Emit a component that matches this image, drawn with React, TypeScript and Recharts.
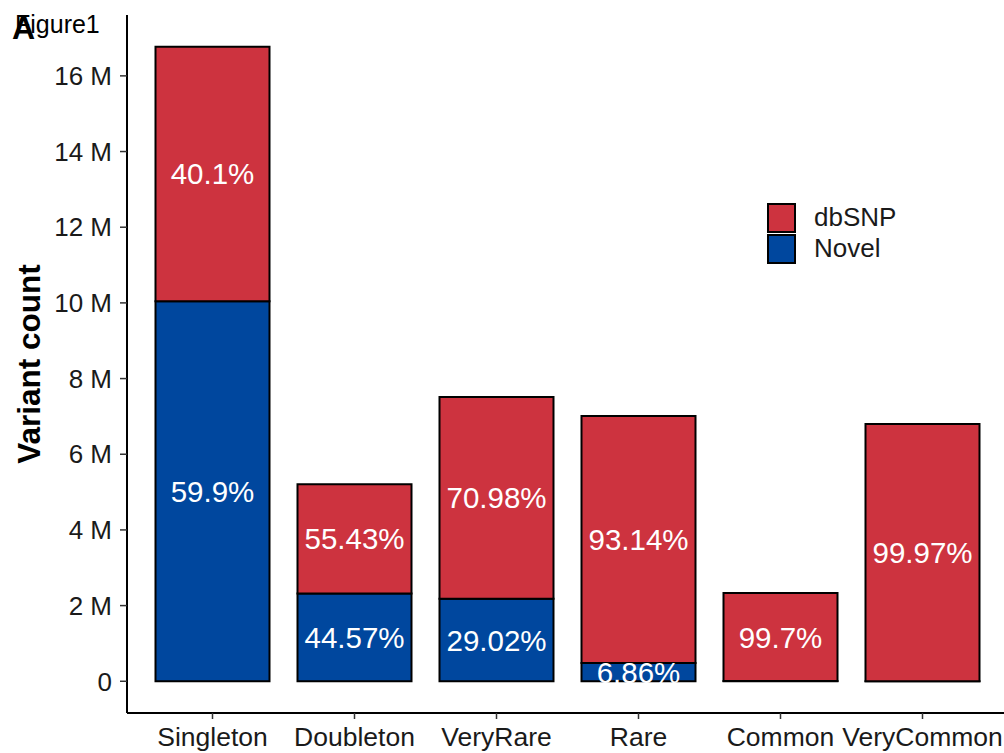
import React from 'react';
import { BarChart, Bar, XAxis, YAxis, LabelList } from 'recharts';

// Variant frequency classes and their total counts
const categories = ['Singleton', 'Doubleton', 'VeryRare', 'Rare', 'Common', 'VeryCommon'];
const totalCounts = [16.77e6, 5.21e6, 7.51e6, 7.01e6, 2.33e6, 6.8e6];
// Share of each class that is novel vs. already in dbSNP (percent)
const novelPct = [59.9, 44.57, 29.02, 6.86, 0.3, 0.03];
const dbsnpPct = [40.1, 55.43, 70.98, 93.14, 99.7, 99.97];
const yTicks = [0, 2e6, 4e6, 6e6, 8e6, 10e6, 12e6, 14e6, 16e6];

const RED = '#CD333F';
const BLUE = '#00479E';
const FONT = '"Liberation Sans", Arial, Helvetica, sans-serif';

const legendItems = [
  { name: 'dbSNP', color: RED },
  { name: 'Novel', color: BLUE },
];

const data = categories.map((category, i) => ({
  category,
  Novel: (totalCounts[i] * novelPct[i]) / 100,
  dbSNP: (totalCounts[i] * dbsnpPct[i]) / 100,
  novelLabel: novelPct[i],
  dbsnpLabel: dbsnpPct[i],
}));

const formatMillions = (v: number) => (v === 0 ? '0' : `${v / 1e6} M`);

const PctLabel = (props: any) => {
  const { x, y, width, height, value } = props;
  if (value == null || value < 1) return null;
  return (
    <text
      x={x + width / 2}
      y={y + height / 2}
      textAnchor="middle"
      dominantBaseline="central"
      fill="#ffffff"
      fontSize={29.5}
      fontFamily={FONT}
    >
      {`${value}%`}
    </text>
  );
};

const XTick = (props: any) => {
  const { x, y, payload } = props;
  return (
    <text x={x} y={y + 25} textAnchor="middle" fill="#1a1a1a" fontSize={26.5} fontFamily={FONT}>
      {payload.value}
    </text>
  );
};

const YTitle = (props: any) => {
  const { viewBox } = props;
  const cx = viewBox.x + 40;
  const cy = viewBox.y + viewBox.height / 2;
  return (
    <text
      x={cx}
      y={cy}
      transform={`rotate(-90, ${cx}, ${cy})`}
      textAnchor="middle"
      fontSize={31.5}
      fontWeight="bold"
      fontFamily={FONT}
      fill="#000"
    >
      Variant count
    </text>
  );
};

const LegendBox = () => (
  <div style={{ position: 'absolute', left: 767, top: 202, fontFamily: FONT }}>
    {legendItems.map((item) => (
      <div key={item.name} style={{ display: 'flex', alignItems: 'center', height: 31 }}>
        <div
          style={{
            boxSizing: 'border-box',
            width: 29,
            height: 30,
            background: item.color,
            border: '2px solid #000',
          }}
        />
        <span style={{ marginLeft: 18, fontSize: 26, color: '#1a1a1a', lineHeight: '31px' }}>{item.name}</span>
      </div>
    ))}
  </div>
);

export default function App() {
  return (
    <div
      style={{
        position: 'absolute',
        left: 0,
        top: 0,
        width: 1004,
        height: 753,
        overflow: 'hidden',
        background: '#fff',
      }}
    >
      <BarChart
        width={1008}
        height={753}
        data={data}
        margin={{ top: 15, right: 0, bottom: 0, left: 0 }}
        barSize={114}
      >
        <XAxis
          dataKey="category"
          height={40}
          padding={{ left: 14.5, right: 14.5 }}
          axisLine={{ stroke: '#000', strokeWidth: 2 }}
          tickLine={{ stroke: '#333', strokeWidth: 1.5 }}
          tickSize={6}
          tick={<XTick />}
          interval={0}
        />
        <YAxis
          type="number"
          width={127}
          domain={[-0.8385e6, 17.6085e6]}
          allowDataOverflow
          ticks={yTicks}
          tickFormatter={formatMillions}
          axisLine={{ stroke: '#000', strokeWidth: 2 }}
          tickLine={{ stroke: '#333', strokeWidth: 1.5 }}
          tickSize={7}
          tickMargin={8}
          tick={{ fontSize: 26, fill: '#1a1a1a', fontFamily: FONT }}
          label={<YTitle />}
        />
        <Bar dataKey="Novel" stackId="v" fill={BLUE} stroke="#000" strokeWidth={2} isAnimationActive={false}>
          <LabelList dataKey="novelLabel" content={<PctLabel />} />
        </Bar>
        <Bar dataKey="dbSNP" stackId="v" fill={RED} stroke="#000" strokeWidth={2} isAnimationActive={false}>
          <LabelList dataKey="dbsnpLabel" content={<PctLabel />} />
        </Bar>
      </BarChart>
      <LegendBox />
      <svg
        width={140}
        height={50}
        style={{ position: 'absolute', left: 0, top: 0, pointerEvents: 'none' }}
      >
        <text x={15} y={33} fontSize={25} fontFamily={FONT} fill="#000">
          Figure1
        </text>
        <text x={12} y={39} fontSize={32} fontWeight="bold" fontFamily={FONT} fill="#000">
          A
        </text>
      </svg>
    </div>
  );
}
